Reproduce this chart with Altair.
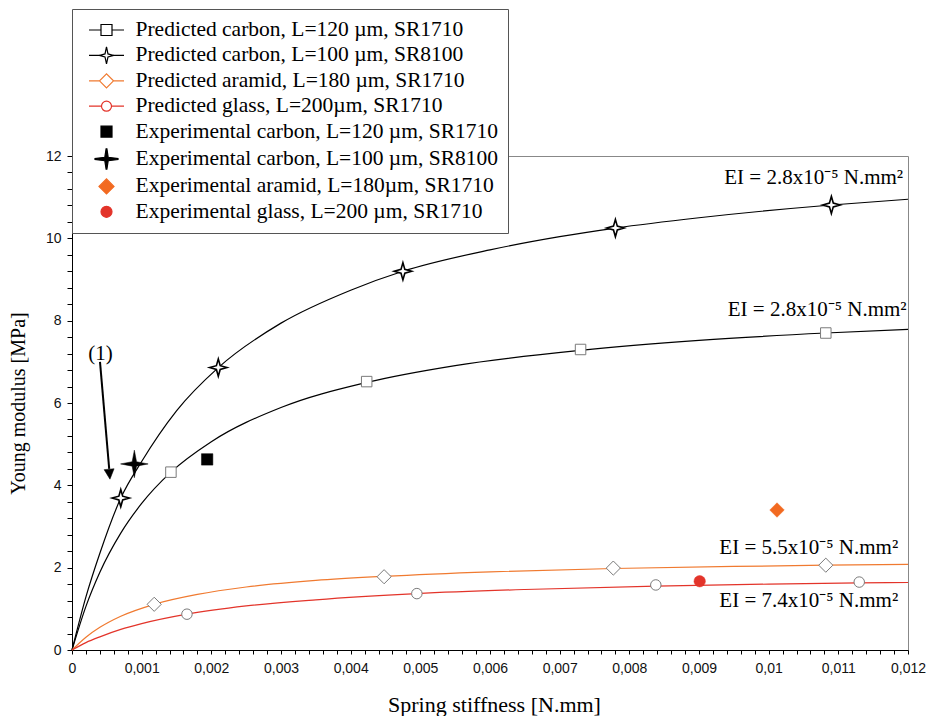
import altair as alt
import pandas as pd

# ---------------- data ----------------
carbon100_x = [0, 0.0002, 0.0004, 0.0007, 0.001, 0.0015, 0.0021, 0.003, 0.004, 0.00475, 0.006, 0.007, 0.0078, 0.009, 0.0109, 0.012]
carbon100_y = [0, 1.29, 2.35, 3.69, 4.58, 5.81, 6.86, 7.94, 8.74, 9.20, 9.72, 10.04, 10.25, 10.50, 10.81, 10.95]

carbon120_x = [0, 0.0002, 0.0004, 0.0007, 0.001, 0.00142, 0.002, 0.003, 0.00423, 0.0055, 0.0073, 0.009, 0.01082, 0.012]
carbon120_y = [0, 1.06, 1.89, 2.84, 3.56, 4.32, 5.06, 5.89, 6.50, 6.91, 7.28, 7.52, 7.70, 7.79]

aramid_x = [0, 0.0002, 0.0004, 0.0007, 0.00118, 0.0018, 0.0025, 0.0035, 0.00448, 0.006, 0.00777, 0.0095, 0.01082, 0.012]
aramid_y = [0, 0.31, 0.55, 0.82, 1.11, 1.35, 1.53, 1.69, 1.79, 1.90, 1.98, 2.03, 2.06, 2.08]

glass_x = [0, 0.0002, 0.0004, 0.0007, 0.001, 0.00165, 0.0025, 0.0035, 0.00495, 0.0065, 0.00838, 0.01, 0.0113, 0.012]
glass_y = [0, 0.18, 0.32, 0.50, 0.64, 0.87, 1.07, 1.22, 1.37, 1.47, 1.55, 1.60, 1.63, 1.64]

# predicted markers
pc120_x = [0.00142, 0.00423, 0.0073, 0.01082]
pc120_y = [4.32, 6.52, 7.30, 7.70]
pc100_x = [0.0007, 0.0021, 0.00475, 0.0078, 0.0109]
pc100_y = [3.69, 6.86, 9.20, 10.25, 10.81]
par_x = [0.00118, 0.00448, 0.00777, 0.01082]
par_y = [1.11, 1.78, 1.99, 2.06]
pgl_x = [0.00165, 0.00495, 0.00838, 0.0113]
pgl_y = [0.87, 1.37, 1.58, 1.65]

# experimental points
ec120 = (0.00194, 4.63)
ec100 = (0.000895, 4.52)
ear = (0.01012, 3.40)
egl = (0.00901, 1.67)

series = [
    "Predicted carbon, L=120 \u00b5m, SR1710",
    "Predicted carbon, L=100 \u00b5m, SR8100",
    "Predicted aramid, L=180 \u00b5m, SR1710",
    "Predicted glass, L=200\u00b5m, SR1710",
    "Experimental carbon, L=120 \u00b5m, SR1710",
    "Experimental carbon, L=100 \u00b5m, SR8100",
    "Experimental aramid, L=180\u00b5m, SR1710",
    "Experimental glass, L=200 \u00b5m, SR1710",
]

ei_text = ["EI = 2.8x10\u207b\u2075 N.mm\u00b2", "EI = 2.8x10\u207b\u2075 N.mm\u00b2",
           "EI = 5.5x10\u207b\u2075 N.mm\u00b2", "EI = 7.4x10\u207b\u2075 N.mm\u00b2"]
ei_x = [0.01193, 0.01198, 0.01186, 0.01186]
ei_y = [11.32, 8.12, 2.33, 1.05]

arrow_x = [0.000402, 0.000534]
arrow_y = [7.0, 4.40]
arrow_tip = (0.000545, 4.15)
label1 = (0.00041, 7.19, "(1)")

x_ticks = [round(i * 0.0002, 4) for i in range(61)]
y_ticks = [round(i * 0.4, 1) for i in range(31)]

# ---------------- styling ----------------
BLACK = "#000000"
ORANGE = "#F07A30"
RED = "#E3342A"
ORANGE_FILL = "#F26A21"
GRAY = "#7a7a7a"
SERIF = "Liberation Serif"
SANS = "Liberation Sans"

xscale = alt.Scale(domain=[0, 0.012], nice=False, zero=False)
yscale = alt.Scale(domain=[0, 12], nice=False, zero=False)

xaxis = alt.Axis(
    values=x_ticks,
    labelExpr="(abs(datum.value*1000 - round(datum.value*1000)) < 0.001) ? replace(format(datum.value, '~g'), '.', ',') : ''",
    labelFont=SANS, labelFontSize=14, labelColor="#111", labelPadding=7,
    labelOverlap=False, labelFlush=False, grid=False,
    tickSize=4, tickColor=BLACK, domainColor=BLACK,
    titleFont=SERIF, titleFontSize=22, titleFontWeight="normal", titleColor=BLACK,
    titleBaseline="alphabetic", titleX=422, titleY=61, titleAlign="center",
)
yaxis = alt.Axis(
    values=y_ticks,
    labelExpr="(abs(datum.value/2 - round(datum.value/2)) < 0.001) ? format(datum.value, 'd') : ''",
    labelFont=SANS, labelFontSize=14, labelColor="#111", labelPadding=6,
    labelOverlap=False, labelFlush=False, grid=False,
    tickSize=5, tickColor=BLACK, domainColor=BLACK,
    titleFont=SERIF, titleFontSize=20, titleFontWeight="normal", titleColor=BLACK,
    titleAngle=270, titleBaseline="alphabetic", titleX=-48, titleY=247, titleAlign="center",
)


def enc():
    return dict(
        x=alt.X("x:Q", scale=xscale, axis=xaxis, title="Spring stiffness [N.mm]"),
        y=alt.Y("y:Q", scale=yscale, axis=yaxis, title="Young modulus [MPa]"),
    )


layers = []

# curves
for cx, cy, col in [(carbon100_x, carbon100_y, BLACK), (carbon120_x, carbon120_y, BLACK),
                    (aramid_x, aramid_y, ORANGE), (glass_x, glass_y, RED)]:
    df = pd.DataFrame({"x": cx, "y": cy})
    layers.append(alt.Chart(df).mark_line(color=col, strokeWidth=1.2, interpolate="monotone").encode(**enc()))

STAR_OPEN = "M0,-1L0.22,-0.22L1,0L0.22,0.22L0,1L-0.22,0.22L-1,0L-0.22,-0.22Z"
STAR_BIG = "M0,-1L0.16,-0.16L1,0L0.16,0.16L0,1L-0.16,0.16L-1,0L-0.16,-0.16Z"

# predicted markers
for mx, my, shape, size, stroke, sw in [
    (pc120_x, pc120_y, "square", 110, GRAY, 1.0),
    (pc100_x, pc100_y, STAR_OPEN, 300, BLACK, 1.6),
    (par_x, par_y, "diamond", 200, GRAY, 1.0),
    (pgl_x, pgl_y, "circle", 110, GRAY, 1.0),
]:
    df = pd.DataFrame({"x": mx, "y": my})
    layers.append(alt.Chart(df).mark_point(shape=shape, size=size, filled=True, fill="white",
                                           stroke=stroke, strokeWidth=sw, opacity=1).encode(**enc()))

# experimental markers
for pt, shape, size, col in [
    (ec120, "square", 130, BLACK),
    (ec100, STAR_BIG, 760, BLACK),
    (ear, "diamond", 210, ORANGE_FILL),
    (egl, "circle", 130, RED),
]:
    df = pd.DataFrame({"x": [pt[0]], "y": [pt[1]]})
    layers.append(alt.Chart(df).mark_point(shape=shape, size=size, filled=True, fill=col,
                                           stroke=col, strokeWidth=0.5, opacity=1).encode(**enc()))

# EI labels
ei_df = pd.DataFrame({"x": ei_x, "y": ei_y, "t": ei_text})
layers.append(alt.Chart(ei_df).mark_text(font=SERIF, fontSize=21, align="right", baseline="alphabetic",
                                         color=BLACK).encode(text="t:N", **enc()))

# annotation arrow (1)
arr_df = pd.DataFrame({"x": arrow_x, "y": arrow_y})
layers.append(alt.Chart(arr_df).mark_line(color=BLACK, strokeWidth=2).encode(**enc()))
tip_df = pd.DataFrame({"x": [arrow_tip[0]], "y": [arrow_tip[1]]})
layers.append(alt.Chart(tip_df).mark_point(shape="M0,0L-0.5,-1L0.5,-1Z", size=400, angle=355, filled=True,
                                           fill=BLACK, stroke=BLACK, strokeWidth=0.5, opacity=1).encode(**enc()))
lab_df = pd.DataFrame({"x": [label1[0]], "y": [label1[1]], "t": [label1[2]]})
layers.append(alt.Chart(lab_df).mark_text(font=SERIF, fontSize=21, align="center", baseline="middle",
                                          color=BLACK).encode(text="t:N", **enc()))

# legend-driving layer (invisible marks, visible legend); symbol unit = 10 px
legend_shapes = [
    "M-1.75,0H-0.55M0.55,0H1.75M-0.55,-0.55H0.55V0.55H-0.55Z",
    "M-1.75,0H-0.7M0.7,0H1.75M0,-0.85L0.15,-0.15L0.7,0L0.15,0.15L0,0.85L-0.15,0.15L-0.7,0L-0.15,-0.15Z",
    "M-1.75,0H-0.7M0.7,0H1.75M-0.7,0L0,-0.7L0.7,0L0,0.7Z",
    "M-1.75,0H-0.5M0.5,0H1.75M0.5,0C0.5,0.276,0.276,0.5,0,0.5C-0.276,0.5,-0.5,0.276,-0.5,0C-0.5,-0.276,-0.276,-0.5,0,-0.5C0.276,-0.5,0.5,-0.276,0.5,0Z",
    "M-0.55,-0.55H0.55V0.55H-0.55Z",
    "M-0.04,-1.02H0.04L0.17,-0.17L1.15,-0.04V0.04L0.17,0.17L0.04,1.02H-0.04L-0.17,0.17L-1.15,0.04V-0.04L-0.17,-0.17Z",
    "M-0.75,0L0,-0.75L0.75,0L0,0.75Z",
    "M0.55,0C0.55,0.304,0.304,0.55,0,0.55C-0.304,0.55,-0.55,0.304,-0.55,0C-0.55,-0.304,-0.304,-0.55,0,-0.55C0.304,-0.55,0.55,-0.304,0.55,0Z",
]
legend_fill = ["white", "white", "white", "white", BLACK, BLACK, ORANGE_FILL, RED]
legend_stroke = [BLACK, BLACK, ORANGE, RED, BLACK, BLACK, ORANGE_FILL, RED]

leg = alt.Legend(
    title=None, orient="none", legendX=0, legendY=-147, padding=10,
    strokeColor="#555", fillColor="white",
    labelFont=SERIF, labelFontSize=21.5, labelColor=BLACK, labelLimit=700, labelOffset=18,
    symbolSize=400, symbolOffset=13.5, symbolStrokeWidth=1.2, symbolOpacity=1, rowPadding=3.4,
)
leg_df = pd.DataFrame({"x": [0.006] * len(series), "y": [6] * len(series), "series": series})
layers.append(
    alt.Chart(leg_df).mark_point(opacity=0, filled=True, strokeWidth=1.2).encode(
        shape=alt.Shape("series:N", scale=alt.Scale(domain=series, range=legend_shapes), legend=leg),
        fill=alt.Fill("series:N", scale=alt.Scale(domain=series, range=legend_fill), legend=leg),
        stroke=alt.Stroke("series:N", scale=alt.Scale(domain=series, range=legend_stroke), legend=leg),
        **enc(),
    )
)

chart = alt.layer(*layers).properties(
    width=836, height=494,
    padding={"left": 64, "top": 148, "right": 19, "bottom": 66},
    autosize=alt.AutoSizeParams(type="none"),
    background="white",
).configure_view(stroke="#888", strokeWidth=1)

chart.save("out.html", embed_options={"renderer": "svg", "actions": False})
